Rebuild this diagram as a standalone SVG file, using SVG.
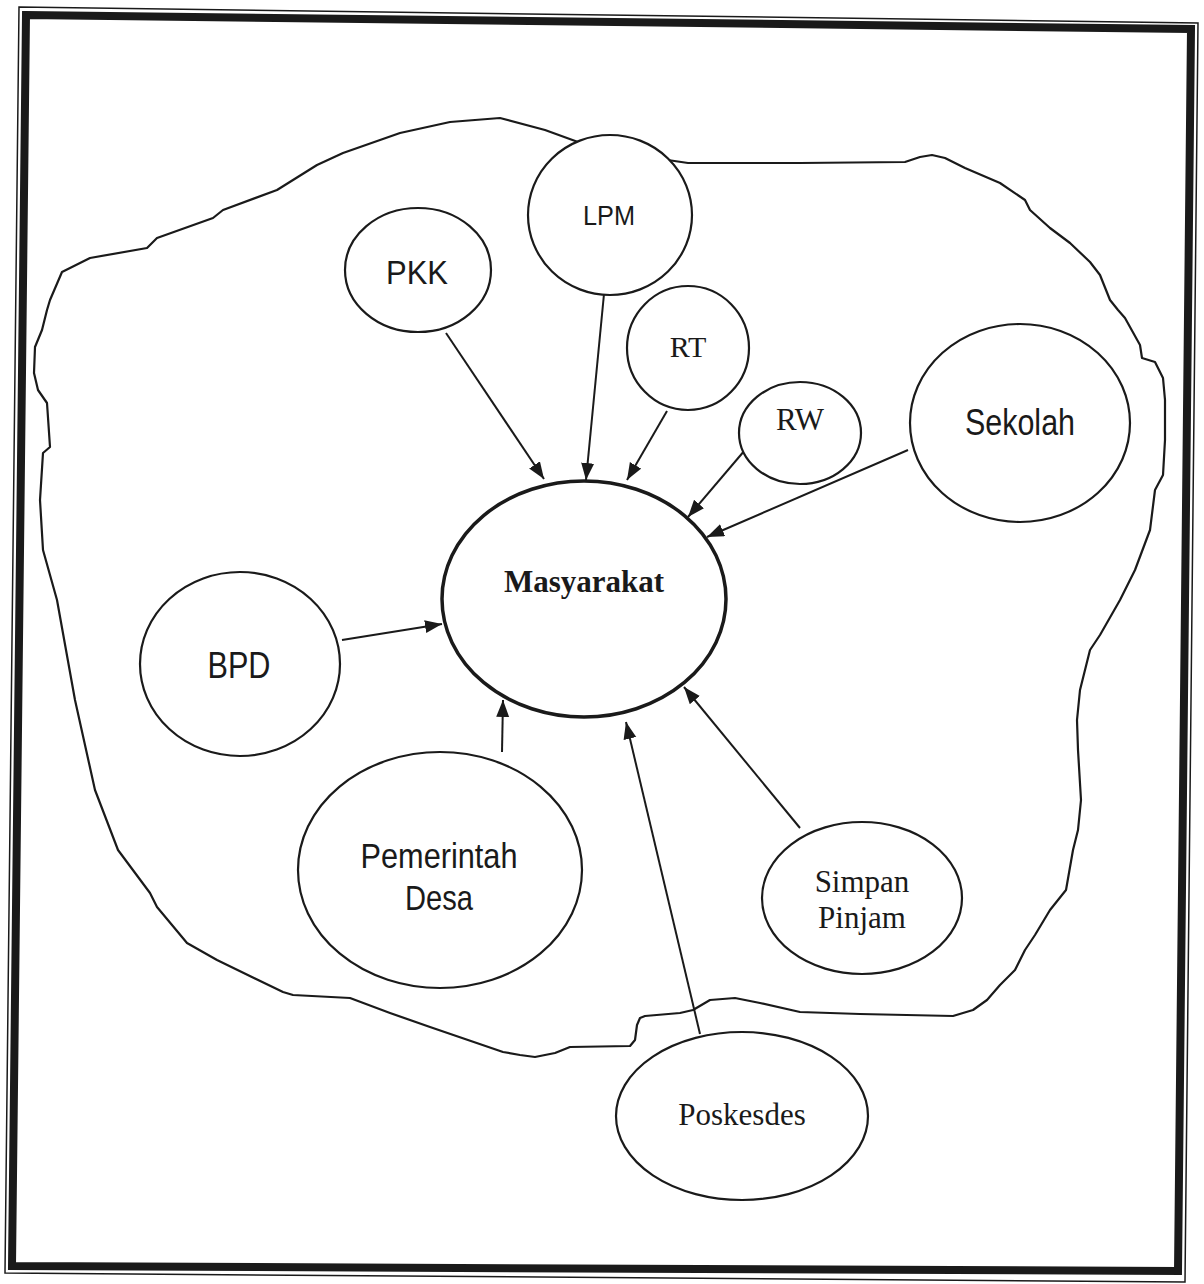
<svg xmlns="http://www.w3.org/2000/svg" width="1204" height="1284" viewBox="0 0 1204 1284">
<style>
.node{fill:#fff;stroke:#1a1a1a;stroke-width:2.2}
.sans{font-family:"Liberation Sans",Arial,sans-serif;fill:#1a1a1a}
.serif{font-family:"Liberation Serif","Times New Roman",serif;fill:#1a1a1a}
.edge{stroke:#1a1a1a;stroke-width:2;fill:none}
</style>
<defs>
<marker id="ah" markerUnits="userSpaceOnUse" markerWidth="18" markerHeight="14" refX="17" refY="6.5" orient="auto">
<path d="M0,0 L17,6.5 L0,13 z" fill="#1a1a1a"/>
</marker>
</defs>
<rect width="1204" height="1284" fill="#fff"/>
<g id="frame" fill="none" stroke="#1a1a1a" stroke-linejoin="miter">
<polygon points="26,15 1191,29 1178,1271 12,1266" stroke-width="8"/>
<polygon points="19,7 1198,23 1185,1282 5,1273" stroke-width="1.5"/>
</g>
<path id="boundary" fill="none" stroke="#1a1a1a" stroke-width="2.2" stroke-linejoin="round" d="M50,300 L62,272 L90,258 L147,248 L157,238 L213,218 L223,210 L277,190 L317,165 L343,153 L400,133 L450,122 L500,118 L545,130 L600,150 L688,163 L800,163 L905,162 L920,157 L932,155 L945,158 L965,168 L1000,183 L1025,200 L1030,210 L1050,228 L1070,243 L1090,262 L1100,275 L1110,300 L1118,310 L1125,318 L1140,345 L1142,358 L1155,362 L1163,378 L1165,400 L1165,440 L1163,475 L1155,490 L1150,530 L1135,570 L1120,600 L1100,635 L1090,650 L1080,690 L1077,720 L1078,750 L1081,800 L1078,830 L1073,850 L1066,890 L1050,910 L1035,935 L1025,950 L1015,970 L1000,985 L987,1000 L973,1010 L953,1016 L860,1014 L800,1012 L760,1003 L735,998 L710,1000 L693,1010 L680,1013 L645,1016 L640,1018 L637,1025 L635,1040 L630,1046 L570,1047 L555,1053 L535,1057 L520,1055 L503,1052 L430,1027 L390,1013 L350,998 L293,995 L283,992 L217,960 L187,943 L157,907 L150,893 L118,850 L95,790 L75,700 L57,600 L43,550 L40,500 L43,453 L50,447 L47,403 L38,390 L34,373 L35,347 L42,330 L47,310 Z"/>
<g id="connectors">
<line class="edge" x1="446" y1="333" x2="544" y2="479" marker-end="url(#ah)"/>
<line class="edge" x1="604" y1="294" x2="586" y2="480" marker-end="url(#ah)"/>
<line class="edge" x1="667" y1="411" x2="627" y2="480" marker-end="url(#ah)"/>
<line class="edge" x1="745" y1="450" x2="688" y2="517" marker-end="url(#ah)"/>
<line class="edge" x1="908" y1="450" x2="707" y2="537" marker-end="url(#ah)"/>
<line class="edge" x1="342" y1="640" x2="442" y2="624" marker-end="url(#ah)"/>
<line class="edge" x1="502" y1="752" x2="503" y2="700" marker-end="url(#ah)"/>
<line class="edge" x1="700" y1="1034" x2="626" y2="722" marker-end="url(#ah)"/>
<line class="edge" x1="800" y1="828" x2="684" y2="687" marker-end="url(#ah)"/>
</g>
<g id="masyarakat">
<ellipse cx="584" cy="599" rx="142" ry="118" fill="#fff" stroke="#1a1a1a" stroke-width="3.5"/>
<text class="serif" x="584" y="592" font-size="31" font-weight="bold" text-anchor="middle">Masyarakat</text>
</g>
<g id="pkk">
<ellipse class="node" cx="418" cy="270" rx="73" ry="62"/>
<text class="sans" x="417" y="284" font-size="34" text-anchor="middle" textLength="62" lengthAdjust="spacingAndGlyphs">PKK</text>
</g>
<g id="lpm">
<ellipse class="node" cx="610" cy="215" rx="82" ry="80"/>
<text class="sans" x="609" y="225" font-size="28" text-anchor="middle" textLength="52" lengthAdjust="spacingAndGlyphs">LPM</text>
</g>
<g id="rt">
<ellipse class="node" cx="688" cy="348" rx="61" ry="62"/>
<text class="serif" x="688" y="357" font-size="30" text-anchor="middle">RT</text>
</g>
<g id="rw">
<ellipse class="node" cx="800" cy="433" rx="61" ry="51"/>
<text class="serif" x="800" y="430" font-size="31" text-anchor="middle">RW</text>
</g>
<g id="sekolah">
<ellipse class="node" cx="1020" cy="423" rx="110" ry="99"/>
<text class="sans" x="1020" y="435" font-size="36" text-anchor="middle" textLength="110" lengthAdjust="spacingAndGlyphs">Sekolah</text>
</g>
<g id="bpd">
<ellipse class="node" cx="240" cy="664" rx="100" ry="92"/>
<text class="sans" x="239" y="678" font-size="36" text-anchor="middle" textLength="63" lengthAdjust="spacingAndGlyphs">BPD</text>
</g>
<g id="pemerintah-desa">
<ellipse class="node" cx="440" cy="870" rx="142" ry="118"/>
<text class="sans" x="439" y="868" font-size="35" text-anchor="middle" textLength="157" lengthAdjust="spacingAndGlyphs">Pemerintah</text>
<text class="sans" x="439" y="910" font-size="35" text-anchor="middle" textLength="68" lengthAdjust="spacingAndGlyphs">Desa</text>
</g>
<g id="simpan-pinjam">
<ellipse class="node" cx="862" cy="898" rx="100" ry="76"/>
<text class="serif" x="862" y="892" font-size="31" text-anchor="middle">Simpan</text>
<text class="serif" x="862" y="928" font-size="31" text-anchor="middle">Pinjam</text>
</g>
<g id="poskesdes">
<ellipse class="node" cx="742" cy="1116" rx="126" ry="84"/>
<text class="serif" x="742" y="1125" font-size="31" text-anchor="middle">Poskesdes</text>
</g>
</svg>
